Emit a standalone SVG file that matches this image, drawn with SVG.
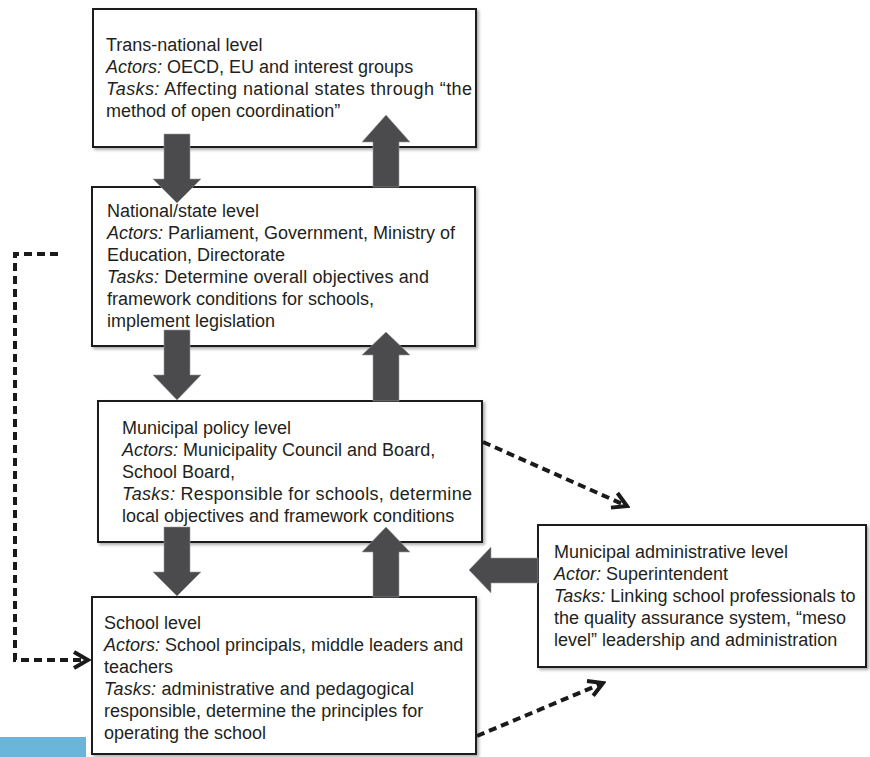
<svg xmlns="http://www.w3.org/2000/svg" width="870" height="757" viewBox="0 0 870 757">
<style>
.box{fill:#fff;stroke:#1f1f1f;stroke-width:2;filter:url(#sh)}
.t{font-family:"Liberation Sans",Arial,sans-serif;font-size:18px;fill:#231f20}
.i{font-style:italic}
.arr{fill:#4b4b4d;stroke:#9a9a9a;stroke-width:0.6}
.dash{fill:none;stroke:#1a1a1a;stroke-width:4;stroke-dasharray:8 5}
</style>
<defs>
<filter id="sh" x="-5%" y="-5%" width="112%" height="115%">
<feDropShadow dx="2" dy="2" stdDeviation="1.5" flood-color="#777" flood-opacity="0.6"/>
</filter>
<marker id="chev" viewBox="0 0 20 20" refX="17" refY="10" markerWidth="20" markerHeight="20" markerUnits="userSpaceOnUse" orient="auto">
<path d="M3,2 L17,10 L3,18" fill="none" stroke="#1a1a1a" stroke-width="4" stroke-dasharray="none"/>
</marker>
</defs>
<rect x="0" y="737" width="86" height="20" fill="#6cb5da"/>
<g id="trans-national">
<rect class="box" x="93" y="9" width="383" height="138"/>
<text class="t" x="106" y="51">Trans-national level</text>
<text class="t" x="106" y="73"><tspan class="i">Actors:</tspan> OECD, EU and interest groups</text>
<text class="t" x="106" y="95" textLength="366" lengthAdjust="spacing"><tspan class="i">Tasks:</tspan> Affecting national states through “the</text>
<text class="t" x="106" y="117">method of open coordination”</text>
</g>
<g id="national">
<rect class="box" x="92" y="187" width="383" height="159"/>
<text class="t" x="107" y="217">National/state level</text>
<text class="t" x="107" y="239"><tspan class="i">Actors:</tspan> Parliament, Government, Ministry of</text>
<text class="t" x="107" y="261">Education, Directorate</text>
<text class="t" x="107" y="283" textLength="322" lengthAdjust="spacing"><tspan class="i">Tasks:</tspan> Determine overall objectives and</text>
<text class="t" x="107" y="305">framework conditions for schools,</text>
<text class="t" x="107" y="327">implement legislation</text>
</g>
<g id="municipal-policy">
<rect class="box" x="98" y="401" width="384" height="141"/>
<text class="t" x="122" y="434">Municipal policy level</text>
<text class="t" x="122" y="456"><tspan class="i">Actors:</tspan> Municipality Council and Board,</text>
<text class="t" x="122" y="478">School Board,</text>
<text class="t" x="122" y="500" textLength="350" lengthAdjust="spacing"><tspan class="i">Tasks:</tspan> Responsible for schools, determine</text>
<text class="t" x="122" y="522">local objectives and framework conditions</text>
</g>
<g id="school">
<rect class="box" x="92" y="597" width="384" height="157"/>
<text class="t" x="104" y="629">School level</text>
<text class="t" x="104" y="651"><tspan class="i">Actors:</tspan> School principals, middle leaders and</text>
<text class="t" x="104" y="673">teachers</text>
<text class="t" x="104" y="695" textLength="310" lengthAdjust="spacing"><tspan class="i">Tasks:</tspan> administrative and pedagogical</text>
<text class="t" x="104" y="717">responsible, determine the principles for</text>
<text class="t" x="104" y="739">operating the school</text>
</g>
<g id="municipal-admin">
<rect class="box" x="538" y="525" width="328" height="142"/>
<text class="t" x="554" y="558">Municipal administrative level</text>
<text class="t" x="554" y="580"><tspan class="i">Actor:</tspan> Superintendent</text>
<text class="t" x="554" y="602"><tspan class="i">Tasks:</tspan> Linking school professionals to</text>
<text class="t" x="554" y="624">the quality assurance system, “meso</text>
<text class="t" x="554" y="646">level” leadership and administration</text>
</g>
<g id="connectors">
<polygon class="arr" points="164,134 190,134 190,179 201,179 177,203 153,179 164,179"/>
<polygon class="arr" points="164,330 190,330 190,375 201,375 177,400 153,375 164,375"/>
<polygon class="arr" points="164,527 190,527 190,572 201,572 177,596 153,572 164,572"/>
<polygon class="arr" points="373,187 399,187 399,142 410,142 386,115 362,142 373,142"/>
<polygon class="arr" points="373,401 399,401 399,355 410,355 386,332 362,355 373,355"/>
<polygon class="arr" points="373,597 399,597 399,552 410,552 386,527 362,552 373,552"/>
<polygon class="arr" points="538,558 538,583 491,583 491,593 469,570 491,547 491,558"/>
<path class="dash" d="M58,254 H15 V660 H88" marker-end="url(#chev)"/>
<path class="dash" d="M483,442 L627,506" marker-end="url(#chev)"/>
<path class="dash" d="M477,736 L603,683" marker-end="url(#chev)"/>
</g>
</svg>
